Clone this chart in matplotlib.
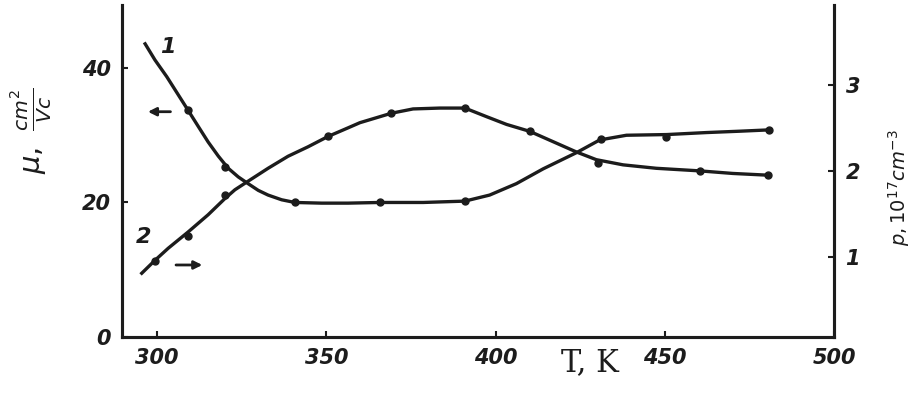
import numpy as np
import matplotlib.pyplot as plt

# curve 1: mobility (left axis)
T1_line = [296.5, 299.4, 302.9, 306.3, 309.2, 312.2, 315.1, 318.1, 321.0, 324.0, 326.9,
           329.9, 332.8, 336.8, 340.7, 348.6, 356.4, 365.8, 378.6, 390.9, 398.2, 406.1,
           414.0, 423.8, 430.7, 438.6, 450.4, 462.2, 472.0, 480.8]
mu_line = [43.6, 41.2, 38.7, 36.0, 33.7, 31.3, 29.0, 26.9, 25.1, 23.8, 22.8,
           21.8, 21.1, 20.4, 20.0, 19.9, 19.9, 20.0, 20.0, 20.2, 21.1, 22.8,
           25.0, 27.4, 29.3, 30.0, 30.1, 30.4, 30.6, 30.8]
T1_pts = [309.2, 320.1, 340.7, 365.8, 390.9, 431.2, 450.4, 480.8]
mu_pts = [33.7, 25.3, 20.0, 20.0, 20.2, 29.5, 29.8, 30.8]

# curve 2: concentration (right axis)
T2_line = [295.5, 299.4, 303.3, 309.2, 315.1, 320.1, 323.0, 326.9, 332.8, 338.7, 344.6,
           350.5, 356.4, 359.9, 369.2, 375.6, 383.5, 390.9, 397.3, 403.2, 410.0, 416.9,
           423.8, 429.7, 437.6, 447.4, 460.2, 470.0, 480.3]
p_line = [0.81, 0.96, 1.10, 1.29, 1.49, 1.68, 1.78, 1.88, 2.03, 2.17, 2.28,
          2.40, 2.50, 2.56, 2.67, 2.72, 2.73, 2.73, 2.63, 2.54, 2.46, 2.34,
          2.22, 2.13, 2.07, 2.03, 2.00, 1.97, 1.95]
T2_pts = [299.4, 309.2, 320.1, 350.5, 369.2, 390.9, 410.0, 430.2, 460.2, 480.3]
p_pts = [0.95, 1.24, 1.72, 2.40, 2.67, 2.73, 2.46, 2.09, 2.00, 1.95]

xticks = [300, 350, 400, 450, 500]
yticks_l = [0, 20, 40]
yticks_r = [1, 2, 3]

ink = '#1c1c1c'
fig = plt.figure(figsize=(9.18, 4.03), dpi=100)
ax = fig.add_axes([0.133, 0.164, 0.776, 0.824])
ax2 = ax.twinx()

ax.plot(T1_line, mu_line, color=ink, lw=2.4, solid_joinstyle='round')
ax.plot(T1_pts, mu_pts, 'o', color=ink, ms=5)
ax2.plot(T2_line, p_line, color=ink, lw=2.4, solid_joinstyle='round')
ax2.plot(T2_pts, p_pts, 'o', color=ink, ms=5)

ax.set_xlim(289.7, 500)
ax.set_ylim(0, 49.4)
ax2.set_ylim(0.07, 3.93)

tick_font = dict(fontsize=15, fontstyle='italic', fontweight='bold', color=ink)
ax.set_xticks(xticks)
ax.set_xticklabels([str(v) for v in xticks], **tick_font)
ax.set_yticks(yticks_l)
ax.set_yticklabels([str(v) for v in yticks_l], **tick_font)
ax2.set_yticks(yticks_r)
ax2.set_yticklabels([str(v) for v in yticks_r], **tick_font)

for a in (ax, ax2):
    a.tick_params(direction='in', length=4, width=1.5, colors=ink, pad=8)
    a.spines['top'].set_visible(False)
    for s in ('left', 'right', 'bottom'):
        a.spines[s].set_linewidth(2.2)
        a.spines[s].set_color(ink)

ax.set_xlabel('T, K', fontsize=22, family='DejaVu Serif', color=ink)
ax.xaxis.set_label_coords(0.657, -0.03)
ax.set_ylabel(r'$\mu,\ \frac{cm^2}{Vc}$', fontsize=21, color=ink)
ax.yaxis.set_label_coords(-0.095, 0.62)
ax2.set_ylabel(r'$p, 10^{17} cm^{-3}$', fontsize=14, color=ink, rotation=90)
ax2.yaxis.set_label_coords(1.072, 0.45)

ax.text(303.2, 43.2, '1', fontsize=16, fontstyle='italic', fontweight='bold',
        color=ink, ha='center', va='center')
ax.text(296.0, 14.8, '2', fontsize=16, fontstyle='italic', fontweight='bold',
        color=ink, ha='center', va='center')
ax.annotate('', xy=(296.5, 33.5), xytext=(304.8, 33.5),
            arrowprops=dict(arrowstyle='-|>', color=ink, lw=2, mutation_scale=12))
ax.annotate('', xy=(314.2, 10.7), xytext=(304.8, 10.7),
            arrowprops=dict(arrowstyle='-|>', color=ink, lw=2, mutation_scale=12))

fig.savefig('out.png', dpi=100)
